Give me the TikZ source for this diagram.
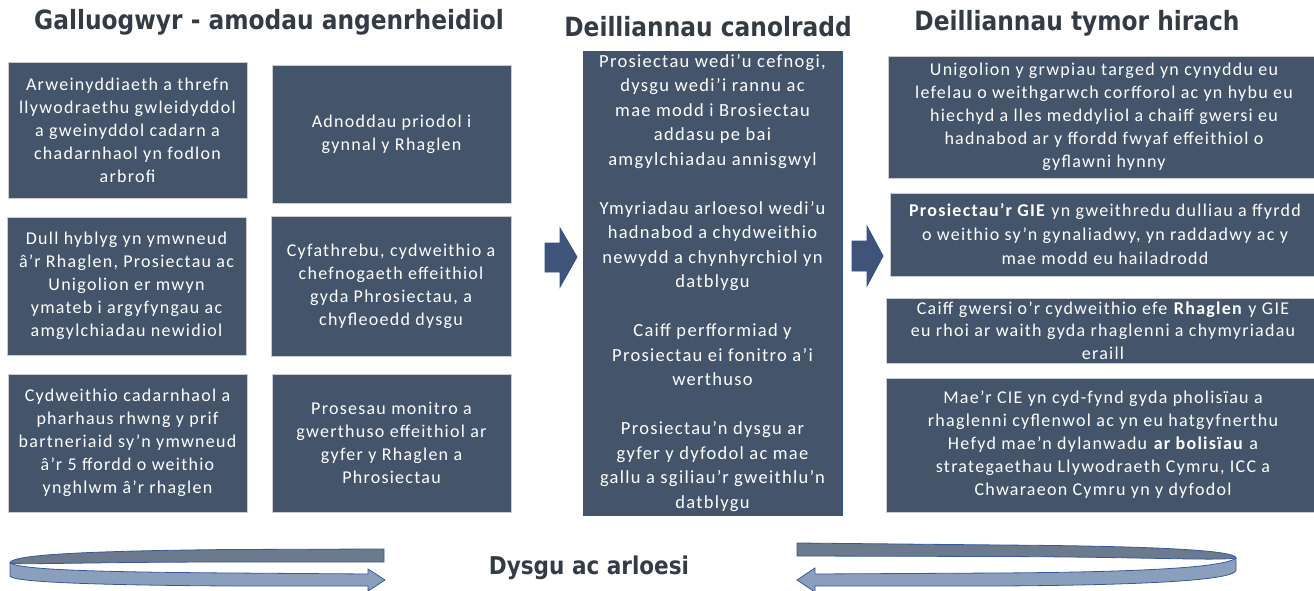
\documentclass[tikz,border=0pt]{standalone}
\usepackage{fontspec}
\setmainfont[LetterSpace=7]{Carlito}
\newfontfamily\titlefont[FakeStretch=0.88]{DejaVu Sans}
\definecolor{boxfill}{HTML}{44546A}
\definecolor{boxline}{HTML}{C8CCD2}
\definecolor{midline}{HTML}{2F5597}
\definecolor{titlecol}{HTML}{333B45}
\definecolor{chevfill}{HTML}{3F5478}
\definecolor{chevline}{HTML}{2F4F8F}
\definecolor{backband}{HTML}{6B7A8C}
\definecolor{frontband}{HTML}{8A9FBC}
\definecolor{bandline}{HTML}{3558A0}
\tikzset{
  card/.style={draw=boxline, line width=0.8pt, fill=boxfill, text=white, align=center,
    inner sep=0pt, font=\fontsize{18}{23}\selectfont},
  heading/.style={text=titlecol, font=\titlefont\bfseries\fontsize{26.5}{30}\selectfont, inner sep=0pt},
  chevron/.style={fill=chevfill, draw=chevline, line width=0.8pt},
  backribbon/.style={fill=backband, draw=bandline, line width=0.8pt},
  frontribbon/.style={fill=frontband, draw=bandline, line width=0.8pt}
}
\begin{document}
\begin{tikzpicture}[x=1pt,y=-1pt]
\useasboundingbox (0,0) rectangle (1314,591);
% headings
\node[heading] (h1) at (269,22) {Galluogwyr - amodau angenrheidiol};
\node[heading] (h2) at (708,27) {Deilliannau canolradd};
\node[heading] (h3) at (1077,23) {Deilliannau tymor hirach};
% left column
\node[card, minimum width=239, minimum height=136] (b1) at (127.5,130)
  {Arweinyddiaeth a threfn\\llywodraethu gwleidyddol\\a gweinyddol cadarn a\\chadarnhaol yn fodlon\\arbrofi};
\node[card, minimum width=239, minimum height=138] (b2) at (391.5,134)
  {Adnoddau priodol i\\gynnal y Rhaglen};
\node[card, minimum width=239, minimum height=138] (b3) at (126.5,286)
  {Dull hyblyg yn ymwneud\\â’r Rhaglen, Prosiectau ac\\Unigolion er mwyn\\ymateb i argyfyngau ac\\amgylchiadau newidiol};
\node[card, minimum width=240, minimum height=140] (b4) at (391,286)
  {Cyfathrebu, cydweithio a\\chefnogaeth effeithiol\\gyda Phrosiectau, a\\chyfleoedd dysgu};
\node[card, minimum width=239, minimum height=138] (b5) at (127.5,443)
  {Cydweithio cadarnhaol a\\pharhaus rhwng y prif\\bartneriaid sy’n ymwneud\\â’r 5 ffordd o weithio\\ynghlwm â’r rhaglen};
\node[card, minimum width=239, minimum height=138] (b6) at (391.5,443)
  {Prosesau monitro a\\gwerthuso effeithiol ar\\gyfer y Rhaglen a\\Phrosiectau};
% middle column
\node[card, draw=midline, minimum width=259, minimum height=464,
  font=\fontsize{18.5}{24.5}\selectfont] (mid) at (712.5,283)
  {Prosiectau wedi’u cefnogi,\\dysgu wedi’i rannu ac\\mae modd i Brosiectau\\addasu pe bai\\amgylchiadau annisgwyl\\[24.5pt]
   Ymyriadau arloesol wedi’u\\hadnabod a chydweithio\\newydd a chynhyrchiol yn\\datblygu\\[24.5pt]
   Caiff perfformiad y\\Prosiectau ei fonitro a’i\\werthuso\\[24.5pt]
   Prosiectau’n dysgu ar\\gyfer y dyfodol ac mae\\gallu a sgiliau’r gweithlu’n\\datblygu};
% right column
\node[card, minimum width=432, minimum height=122] (r1) at (1104,117)
  {Unigolion y grwpiau targed yn cynyddu eu\\lefelau o weithgarwch corfforol ac yn hybu eu\\hiechyd a lles meddyliol a chaiff gwersi eu\\hadnabod ar y ffordd fwyaf effeithiol o\\gyflawni hynny};
\node[card, minimum width=430, minimum height=83, font=\fontsize{18}{24}\selectfont] (r2) at (1105,234.5)
  {\textbf{Prosiectau’r GIE} yn gweithredu dulliau a ffyrdd\\o weithio sy’n gynaliadwy, yn raddadwy ac y\\mae modd eu hailadrodd};
\node[card, minimum width=434, minimum height=65, font=\fontsize{18}{22.5}\selectfont] (r3) at (1103,330.5)
  {Caiff gwersi o’r cydweithio efe \textbf{Rhaglen} y GIE\\eu rhoi ar waith gyda rhaglenni a chymyriadau\\eraill};
\node[card, minimum width=434, minimum height=134] (r4) at (1103,445)
  {Mae’r CIE yn cyd-fynd gyda pholisïau a\\rhaglenni cyflenwol ac yn eu hatgyfnerthu\\Hefyd mae’n dylanwadu \textbf{ar bolisïau} a\\strategaethau Llywodraeth Cymru, ICC a\\Chwaraeon Cymru yn y dyfodol};
% chevron arrows
\draw[chevron] (545,243) -- (560,243) -- (560,228) -- (577,257) -- (560,287) -- (560,272) -- (545,272) -- cycle;
\draw[chevron] (852,241) -- (867,241) -- (867,226) -- (883,256) -- (867,286) -- (867,271) -- (852,271) -- cycle;
% bottom label
\node[heading, font=\titlefont\bfseries\fontsize{24.5}{28}\selectfont] (learn) at (589,568) {Dysgu ac arloesi};
% left loop arrow
\draw[backribbon] (384,549) -- (230,549.5) .. controls (80,551) and (10,555) .. (10,563)
  .. controls (20,565) and (90,562) .. (230,562) -- (384,562) -- cycle;
\draw[frontribbon] (10,563) .. controls (22,570) and (100,572) .. (230,573) -- (368,574) -- (368,569)
  -- (385,580) -- (368,591) -- (368,586) -- (230,586) .. controls (90,585) and (12,582) .. (10,576) -- cycle;
% right loop arrow
\draw[backribbon] (797,543) -- (1000,545) .. controls (1150,546) and (1236,550) .. (1236,558)
  .. controls (1215,561) and (1150,557) .. (1000,556.5) -- (797,556) -- cycle;
\draw[frontribbon] (1236,558) .. controls (1225,567) and (1150,572) .. (1000,573) -- (815,574) -- (815,568)
  -- (797,580) -- (815,592) -- (815,586) -- (1000,586) .. controls (1150,585) and (1236,580) .. (1236,570) -- cycle;
\end{tikzpicture}
\end{document}
